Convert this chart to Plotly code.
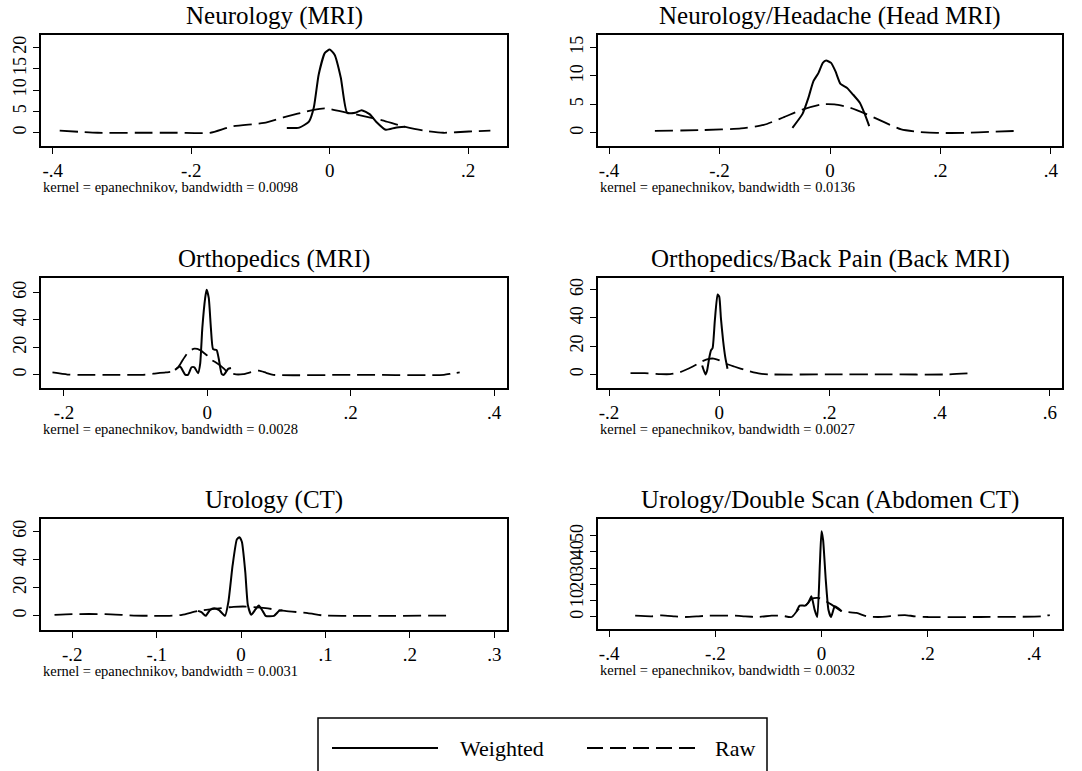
import plotly.graph_objects as go

W, H = 1082, 771

# ---------------- data ----------------
titles = ["Neurology (MRI)", "Neurology/Headache (Head MRI)",
          "Orthopedics (MRI)", "Orthopedics/Back Pain (Back MRI)",
          "Urology (CT)", "Urology/Double Scan (Abdomen CT)"]
bandwidths = ["0.0098", "0.0136", "0.0028", "0.0027", "0.0031", "0.0032"]

neuro_raw_x = [-0.390, -0.335, -0.28, -0.22, -0.173, -0.141, -0.095, -0.067, -0.025, -0.007,
               0.025, 0.044, 0.076, 0.104, 0.136, 0.164, 0.201, 0.232]
neuro_raw_y = [0.5, 0, 0, 0, 0, 1.5, 2.3, 3.6, 5.3, 5.7, 4.7, 4.1, 2.9, 1.6, 0.5, 0, 0.3, 0.5]
neuro_w_x = [-0.062, -0.044, -0.030, -0.023, -0.016, -0.007, 0, 0.007, 0.016, 0.025,
             0.037, 0.046, 0.058, 0.067, 0.081, 0.095, 0.109]
neuro_w_y = [1.1, 1.2, 2.6, 5.9, 13.6, 18.7, 19.5, 18.3, 12.9, 4.7, 4.7, 5.3, 4.3, 2.6, 0.7, 1.2, 1.4]

head_raw_x = [-0.317, -0.23, -0.161, -0.12, -0.085, -0.05, -0.016, 0.008, 0.037, 0.066,
              0.1, 0.129, 0.158, 0.193, 0.245, 0.292, 0.338]
head_raw_y = [0.35, 0.5, 0.8, 1.4, 2.7, 4.1, 5.0, 5.0, 4.4, 3.3, 1.8, 0.6, 0.2, 0, 0, 0.2, 0.35]
head_w_x = [-0.068, -0.05, -0.039, -0.030, -0.021, -0.013, -0.007, 0.002, 0.010, 0.019,
            0.031, 0.042, 0.054, 0.063, 0.071]
head_w_y = [0.9, 3.3, 6.2, 9.1, 10.5, 12.3, 12.7, 12.3, 10.8, 8.6, 7.9, 6.7, 5.3, 3.3, 1.2]

ortho_raw_x = [-0.216, -0.195, -0.18, -0.13, -0.09, -0.075, -0.058, -0.048, -0.040, -0.034,
               -0.026, -0.018, -0.010, -0.006, 0, 0.004, 0.012, 0.02, 0.026, 0.032, 0.04,
               0.05, 0.062, 0.072, 0.082, 0.092, 0.2, 0.33, 0.34, 0.352]
ortho_raw_y = [1.7, 0.2, 0, 0, 0, 0.8, 1.7, 2.5, 6, 11, 17, 19, 18, 16.5, 14, 11.5, 9, 6, 3,
               1.2, 0.3, 0.5, 2, 3, 1.5, 0, 0, 0, 0.8, 1.8]
ortho_w_x = [-0.045, -0.038, -0.031, -0.027, -0.022, -0.018, -0.013, -0.010, -0.007, -0.003,
             -0.001, 0.002, 0.005, 0.008, 0.013, 0.016, 0.020, 0.023, 0.029, 0.033]
ortho_w_y = [3.6, 6, 0.2, 0, 5.5, 5.5, 1.2, 8, 34, 56, 62, 56, 34, 18.7, 18, 11.5, 0.7, 0, 4.3, 5]

back_raw_x = [-0.161, -0.135, -0.106, -0.089, -0.071, -0.048, -0.031, -0.019, -0.010, -0.002,
              0.010, 0.027, 0.050, 0.074, 0.091, 0.2, 0.3, 0.416, 0.459]
back_raw_y = [0.9, 0.9, 0.2, 0.2, 1.6, 5.6, 9.3, 11, 11.2, 10.3, 7.9, 5.6, 2.8, 0.5, 0, 0, 0, 0, 0.9]
back_w_x = [-0.031, -0.025, -0.022, -0.018, -0.015, -0.012, -0.008, -0.003, 0, 0.003, 0.007,
            0.011, 0.015]
back_w_y = [6.3, 0, 2.8, 12, 17, 18.7, 38, 56.5, 55, 40, 24, 12, 4]

uro_raw_x = [-0.221, -0.200, -0.161, -0.127, -0.104, -0.085, -0.070, -0.051, -0.032, -0.009,
             0.006, 0.029, 0.052, 0.079, 0.098, 0.125, 0.182, 0.245]
uro_raw_y = [0.7, 1.2, 1.2, 0.2, 0, 0, 0.7, 3.5, 4.9, 6.4, 6.6, 5.4, 3.5, 1.9, 0.2, 0, 0, 0.2]
uro_w_x = [-0.051, -0.047, -0.042, -0.037, -0.032, -0.026, -0.019, -0.015, -0.010, -0.005,
           -0.002, 0.001, 0.005, 0.008, 0.012, 0.017, 0.021, 0.026, 0.029, 0.039, 0.045, 0.049]
uro_w_y = [3.5, 2.6, 0, 4, 5.4, 4, 0, 10, 36, 54.4, 56, 52.5, 31, 7.8, 0.7, 4.5, 7.3, 3, 0, 0,
           3.5, 4]

abd_raw_x = [-0.351, -0.320, -0.301, -0.276, -0.257, -0.232, -0.213, -0.188, -0.163, -0.144,
             -0.119, -0.094, -0.075, -0.056, -0.044, -0.031, -0.019, -0.006, 0.003, 0.019,
             0.038, 0.066, 0.085, 0.107, 0.138, 0.157, 0.176, 0.201, 0.3, 0.414, 0.430]
abd_raw_y = [0.8, 0.4, 1, 0.4, 0, 0.4, 0.8, 0.8, 0.8, 0.4, 0, 0.8, 0.8, 0, 4.5, 6.6, 11, 11.7,
             10.7, 7.6, 3.5, 2.5, 0.4, 0, 0.8, 1.2, 0.4, 0, 0, 0.4, 1.2]
abd_w_x = [-0.047, -0.041, -0.031, -0.025, -0.019, -0.013, -0.008, -0.003, 0, 0.003, 0.008,
           0.013, 0.018, 0.025, 0.031, 0.038]
abd_w_y = [3.5, 7, 7, 8.6, 12.7, 4.5, 0, 33, 52.7, 47.5, 23, 4.5, 0, 6.6, 5.5, 3.5]

x_ticks = [[-0.4, -0.2, 0, 0.2], [-0.4, -0.2, 0, 0.2, 0.4], [-0.2, 0, 0.2, 0.4],
           [-0.2, 0, 0.2, 0.4, 0.6], [-0.2, -0.1, 0, 0.1, 0.2, 0.3], [-0.4, -0.2, 0, 0.2, 0.4]]
y_ticks = [[0, 5, 10, 15, 20], [0, 5, 10, 15], [0, 20, 40, 60], [0, 20, 40, 60],
           [0, 20, 40, 60], [0, 10, 20, 30, 40, 50]]

panels = [
    (neuro_raw_x, neuro_raw_y, neuro_w_x, neuro_w_y),
    (head_raw_x, head_raw_y, head_w_x, head_w_y),
    (ortho_raw_x, ortho_raw_y, ortho_w_x, ortho_w_y),
    (back_raw_x, back_raw_y, back_w_x, back_w_y),
    (uro_raw_x, uro_raw_y, uro_w_x, uro_w_y),
    (abd_raw_x, abd_raw_y, abd_w_x, abd_w_y),
]

# ---------------- layout (pixel geometry) ----------------
boxes_px = [(41, 507, 35, 146), (598, 1062, 35, 146),
            (41, 507, 278, 388), (598, 1062, 278, 388),
            (41, 507, 519, 630), (598, 1062, 519, 629)]
x_ranges = [[-0.417, 0.256], [-0.42, 0.42], [-0.232, 0.418],
            [-0.22, 0.622], [-0.237, 0.315], [-0.421, 0.453]]
y_ranges = [[-3.1, 22.9], [-2.3, 17.2], [-9.6, 70.5],
            [-9.6, 68.2], [-10.1, 68.9], [-7.4, 60.3]]

FONT = "Liberation Serif, Times New Roman, DejaVu Serif, serif"


def fmt(v):
    s = ("%g" % v)
    if s.startswith("0."):
        s = s[1:]
    elif s.startswith("-0."):
        s = "-" + s[2:]
    return s


def px(x):
    return x / W


def py(y):
    return 1 - y / H


fig = go.Figure()
layout = dict(
    width=W, height=H, margin=dict(l=0, r=0, t=0, b=0),
    paper_bgcolor="white", plot_bgcolor="white",
    font=dict(family=FONT, color="black", size=19),
    showlegend=False,
)
annotations = []
shapes = []

for i, (rx, ry, wx, wy) in enumerate(panels):
    k = "" if i == 0 else str(i + 1)
    xa, ya = "x" + k, "y" + k
    x0, x1, y0, y1 = boxes_px[i]
    fig.add_trace(go.Scatter(x=rx, y=ry, mode="lines", xaxis=xa, yaxis=ya, name="Raw",
                             line=dict(color="black", width=1.8, dash="18px,7px",
                                       shape="spline", smoothing=0.6)))
    fig.add_trace(go.Scatter(x=wx, y=wy, mode="lines", xaxis=xa, yaxis=ya, name="Weighted",
                             line=dict(color="black", width=2, shape="spline", smoothing=0.5)))
    layout["xaxis" + k] = dict(
        domain=[px(x0), px(x1)], anchor=ya, range=x_ranges[i],
        tickvals=x_ticks[i], ticktext=[fmt(v) for v in x_ticks[i]],
        ticks="outside", ticklen=6, tickwidth=1.2, tickcolor="black",
        showline=True, linecolor="black", linewidth=1.5, mirror=True,
        showgrid=False, zeroline=False, tickfont=dict(size=19, family=FONT))
    layout["yaxis" + k] = dict(
        domain=[py(y1), py(y0)], anchor=xa, range=y_ranges[i],
        tickvals=y_ticks[i], ticktext=[fmt(v) for v in y_ticks[i]], tickangle=-90,
        ticks="outside", ticklen=6, tickwidth=1.2, tickcolor="black",
        showline=True, linecolor="black", linewidth=1.5, mirror=True,
        showgrid=False, zeroline=False, tickfont=dict(size=18, family=FONT))
    annotations.append(dict(text=titles[i], x=px((x0 + x1) / 2), y=py(y0 - 19),
                            xref="paper", yref="paper", showarrow=False,
                            xanchor="center", yanchor="middle",
                            font=dict(size=25, family=FONT)))
    annotations.append(dict(text="kernel = epanechnikov, bandwidth = " + bandwidths[i],
                            x=px(x0), y=py(y1 + 41), xref="paper", yref="paper",
                            showarrow=False, xanchor="left", yanchor="middle",
                            font=dict(size=14.5, family=FONT)))

# legend box (drawn)
shapes.append(dict(type="rect", xref="paper", yref="paper", x0=px(318), x1=px(767),
                   y0=py(780), y1=py(718), line=dict(color="black", width=1.5)))
shapes.append(dict(type="line", xref="paper", yref="paper", x0=px(332), x1=px(438),
                   y0=py(748), y1=py(748), line=dict(color="black", width=2)))
shapes.append(dict(type="line", xref="paper", yref="paper", x0=px(587), x1=px(696),
                   y0=py(748), y1=py(748), line=dict(color="black", width=2, dash="16px,7px")))
annotations.append(dict(text="Weighted", x=px(458), y=py(748), xref="paper", yref="paper",
                        showarrow=False, xanchor="left", yanchor="middle",
                        font=dict(size=22, family=FONT)))
annotations.append(dict(text="Raw", x=px(713), y=py(748), xref="paper", yref="paper",
                        showarrow=False, xanchor="left", yanchor="middle",
                        font=dict(size=22, family=FONT)))

layout["annotations"] = annotations
layout["shapes"] = shapes
fig.update_layout(**layout)
fig.write_html("out.html")
